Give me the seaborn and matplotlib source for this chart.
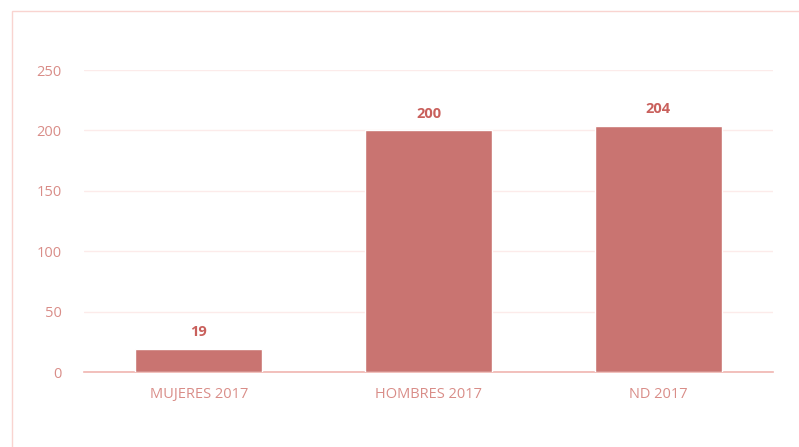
import matplotlib
matplotlib.use('Agg')
import matplotlib.pyplot as plt
import seaborn as sns
import pandas as pd
from matplotlib.patches import Rectangle

# datos
categorias = ['MUJERES 2017', 'HOMBRES 2017', 'ND 2017']
valores = [19, 200, 204]
y_ticks = [0, 50, 100, 150, 200, 250]

df = pd.DataFrame({'cat': categorias, 'val': valores})

sns.set_style('white')
plt.rcParams['font.family'] = ['Open Sans', 'DejaVu Sans']

bar_color = '#c97471'
text_color = '#d98d88'
label_color = '#c9605c'

fig = plt.figure(figsize=(7.99, 4.47), dpi=100)
ax = fig.add_axes([84 / 799, 1 - 372 / 447, (773 - 84) / 799, (372 - 70) / 447])

sns.barplot(data=df, x='cat', y='val', color=bar_color, width=0.553,
            saturation=1, ax=ax, zorder=3)

ax.set_ylim(0, 250)
ax.set_xlim(-0.5, 2.5)
ax.set_yticks(y_ticks)
ax.set_xlabel('')
ax.set_ylabel('')

for s in ['top', 'right', 'left']:
    ax.spines[s].set_visible(False)
ax.spines['bottom'].set_color('#f0b5b0')
ax.spines['bottom'].set_linewidth(1.2)

ax.yaxis.grid(True, color='#fcebea', linewidth=1)
ax.set_axisbelow(True)
ax.tick_params(axis='both', length=0, labelsize=10.5, colors=text_color)
ax.tick_params(axis='y', pad=16)
ax.tick_params(axis='x', pad=11)

# etiquetas de valor
for i, v in enumerate(valores):
    ax.text(i, v + 8, str(v), ha='center', va='bottom', fontsize=10.5,
            fontweight='bold', color=label_color)

# borde exterior
fig.patches.append(Rectangle((12 / 799, -0.1), 1.2, 1 - 11 / 447 + 0.1,
                             transform=fig.transFigure, fill=False,
                             edgecolor='#f9d4d0', linewidth=1))

fig.savefig('out.png', dpi=100)
